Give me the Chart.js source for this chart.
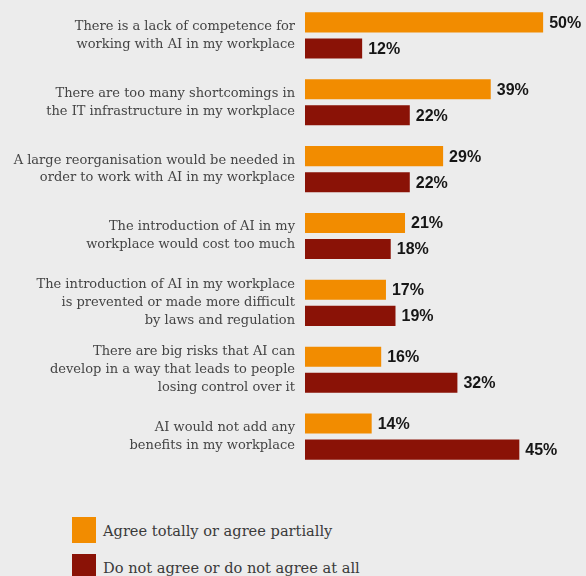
<!DOCTYPE html>
<html>
<head>
<meta charset="utf-8">
<script src="https://cdn.jsdelivr.net/npm/chart.js@4"></script>
<style>
    html, body { margin: 0; padding: 0; background: #ececec; }
    body { width: 586px; height: 576px; overflow: hidden; position: relative; }
    #wrap { position: absolute; left: 0; top: 0; width: 586px; height: 470px; }
    #legend { position: absolute; left: 72px; top: 517px; font-family: "DejaVu Serif", serif; font-size: 14.6px; color: #3a3a3a; }
    #legend .it { display: flex; align-items: center; height: 26px; margin-bottom: 11px; }
    #legend .sw { width: 24px; height: 26px; margin-right: 7px; }
</style>
</head>
<body>
<div id="wrap"><canvas id="c"></canvas></div>
<div id="legend"></div>
<script>
/* AI barriers in the workplace */
const categories = [
    ['There is a lack of competence for', 'working with AI in my workplace'],
    ['There are too many shortcomings in', 'the IT infrastructure in my workplace'],
    ['A large reorganisation would be needed in', 'order to work with AI in my workplace'],
    ['The introduction of AI in my', 'workplace would cost too much'],
    ['The introduction of AI in my workplace', 'is prevented or made more difficult', 'by laws and regulation'],
    ['There are big risks that AI can', 'develop in a way that leads to people', 'losing control over it'],
    ['AI would not add any', 'benefits in my workplace'],
];
const seriesNames = ['Agree totally or agree partially', 'Do not agree or do not agree at all'];
const agree = [50, 39, 29, 21, 17, 16, 14];
const disagree = [12, 22, 22, 18, 19, 32, 45];

const ORANGE = '#f28c00';
const DARK = '#8a1206';

// value labels at the bar ends
const valueLabels = {
    id: 'valueLabels',
    afterDatasetsDraw(chart) {
        const ctx = chart.ctx;
        ctx.save();
        ctx.font = 'bold 16px "Liberation Sans", sans-serif';
        ctx.fillStyle = '#161616';
        ctx.textAlign = 'left';
        ctx.textBaseline = 'middle';
        chart.data.datasets.forEach((ds, i) => {
            chart.getDatasetMeta(i).data.forEach((bar, j) => {
                ctx.fillText(ds.data[j] + '%', bar.x + 6, bar.y + 1);
            });
        });
        ctx.restore();
    },
};

new Chart(document.getElementById('c'), {
    type: 'bar',
    data: {
        labels: categories,
        datasets: [
            { label: seriesNames[0], data: agree, backgroundColor: ORANGE },
            { label: seriesNames[1], data: disagree, backgroundColor: DARK },
        ],
    },
    options: {
        indexAxis: 'y',
        responsive: true,
        maintainAspectRatio: false,
        animation: false,
        categoryPercentage: 0.78,
        barPercentage: 0.77,
        layout: { padding: { top: 2, right: 0, bottom: 0, left: 0 } },
        scales: {
            x: { display: false, min: 0, max: 59 },
            y: {
                grid: { display: false, drawTicks: false },
                border: { display: false },
                ticks: {
                    padding: 10,
                    color: '#444',
                    font: { family: '"DejaVu Serif", serif', size: 13, lineHeight: 1.38 },
                },
                afterFit: (scale) => {
                    scale.width = 305;
                    scale.paddingTop = 0;
                    scale.paddingBottom = 0;
                },
            },
        },
        plugins: { legend: { display: false }, tooltip: { enabled: false } },
    },
    plugins: [valueLabels],
});

document.getElementById('legend').innerHTML = seriesNames.map((n, i) =>
    `<div class="it"><div class="sw" style="background:${i ? DARK : ORANGE}"></div>${n}</div>`).join('');
</script>
</body>
</html>
